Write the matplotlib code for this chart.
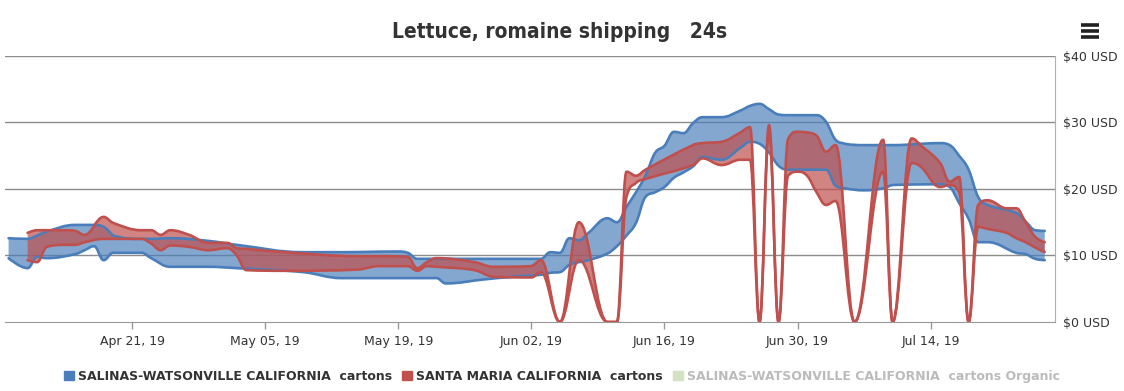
import matplotlib
matplotlib.use('Agg')
import matplotlib.pyplot as plt
import matplotlib.dates as mdates
from matplotlib.path import Path
from matplotlib.patches import PathPatch, Patch
from matplotlib.lines import Line2D
import pandas as pd

title = 'Lettuce, romaine shipping   24s'
series_names = ['SALINAS-WATSONVILLE CALIFORNIA  cartons',
                'SANTA MARIA CALIFORNIA  cartons',
                'SALINAS-WATSONVILLE CALIFORNIA  cartons Organic']
tick_dates = ['2019-04-21', '2019-05-05', '2019-05-19', '2019-06-02',
              '2019-06-16', '2019-06-30', '2019-07-14']
y_ticks = [0, 10, 20, 30, 40]

salinas_dates = ['2019-04-08', '2019-04-10', '2019-04-11', '2019-04-12', '2019-04-15',
                 '2019-04-16', '2019-04-17', '2019-04-18', '2019-04-19', '2019-04-22',
                 '2019-04-23', '2019-04-25', '2019-04-29', '2019-05-02', '2019-05-09',
                 '2019-05-13', '2019-05-19', '2019-05-20', '2019-05-21', '2019-05-23',
                 '2019-05-24', '2019-05-28', '2019-05-31', '2019-06-03', '2019-06-04',
                 '2019-06-05', '2019-06-06', '2019-06-07', '2019-06-08', '2019-06-10',
                 '2019-06-11', '2019-06-12', '2019-06-13', '2019-06-14', '2019-06-15',
                 '2019-06-16', '2019-06-17', '2019-06-18', '2019-06-19', '2019-06-20',
                 '2019-06-22', '2019-06-24', '2019-06-25', '2019-06-26', '2019-06-27',
                 '2019-06-28', '2019-06-29', '2019-07-02', '2019-07-03', '2019-07-04',
                 '2019-07-05', '2019-07-07', '2019-07-09', '2019-07-10', '2019-07-15',
                 '2019-07-16', '2019-07-17', '2019-07-18', '2019-07-19', '2019-07-20',
                 '2019-07-23', '2019-07-24', '2019-07-25', '2019-07-26']
salinas_low = [9.6, 8.1, 9.8, 9.6, 10.2, 10.8, 11.4, 9.3, 10.4, 10.4,
               9.6, 8.3, 8.3, 8.1, 7.5, 6.6, 6.6, 6.6, 6.6, 6.6,
               5.8, 6.4, 6.8, 7.1, 7.4, 7.5, 8.6, 9.0, 9.3, 10.3,
               11.4, 13.0, 14.9, 18.8, 19.5, 20.3, 21.7, 22.5, 23.4, 24.8,
               24.4, 26.2, 27.1, 26.8, 25.5, 23.5, 22.9, 22.9, 22.9, 20.5,
               20.1, 19.8, 20.1, 20.6, 20.7, 20.3, 17.9, 15.5, 12.0, 12.0,
               10.4, 10.2, 9.5, 9.3]
salinas_high = [12.6, 12.5, 13.0, 13.6, 14.6, 14.6, 14.6, 14.3, 13.0, 12.5,
                12.5, 12.6, 12.2, 11.6, 10.5, 10.5, 10.6, 10.4, 9.5, 9.5,
                9.5, 9.5, 9.5, 9.5, 10.5, 10.4, 12.6, 12.3, 13.4, 15.6,
                15.0, 17.3, 19.5, 22.0, 25.4, 26.5, 28.6, 28.4, 29.9, 30.8,
                30.8, 31.8, 32.5, 32.8, 32.0, 31.2, 31.1, 31.1, 30.1, 27.4,
                26.8, 26.6, 26.6, 26.6, 26.9, 26.6, 25.0, 22.9, 18.8, 17.6,
                16.4, 15.1, 13.8, 13.7]

santa_maria_dates = ['2019-04-10', '2019-04-11', '2019-04-12', '2019-04-14', '2019-04-15',
                     '2019-04-16', '2019-04-18', '2019-04-19', '2019-04-22', '2019-04-23',
                     '2019-04-24', '2019-04-25', '2019-04-27', '2019-04-29', '2019-05-01',
                     '2019-05-02', '2019-05-03', '2019-05-07', '2019-05-15', '2019-05-17',
                     '2019-05-20', '2019-05-21', '2019-05-22', '2019-05-23', '2019-05-27',
                     '2019-05-29', '2019-06-02', '2019-06-03', '2019-06-05', '2019-06-07',
                     '2019-06-10', '2019-06-11', '2019-06-12', '2019-06-13', '2019-06-14',
                     '2019-06-19', '2019-06-20', '2019-06-22', '2019-06-24', '2019-06-25',
                     '2019-06-26', '2019-06-27', '2019-06-28', '2019-06-29', '2019-06-30',
                     '2019-07-01', '2019-07-02', '2019-07-03', '2019-07-04', '2019-07-06',
                     '2019-07-09', '2019-07-10', '2019-07-12', '2019-07-13', '2019-07-15',
                     '2019-07-16', '2019-07-17', '2019-07-18', '2019-07-19', '2019-07-20',
                     '2019-07-22', '2019-07-23', '2019-07-24', '2019-07-25', '2019-07-26']
santa_maria_low = [9.3, 9.0, 11.3, 11.6, 11.6, 12.0, 12.5, 12.5, 12.5, 11.8,
                   10.8, 11.5, 11.3, 10.8, 11.1, 10.0, 7.8, 7.7, 7.9, 8.4,
                   8.4, 7.7, 8.4, 8.3, 7.8, 6.8, 6.7, 7.5, 0, 9.3,
                   0, 0, 18.8, 20.9, 21.5, 23.6, 24.6, 23.6, 24.4, 24.4,
                   0, 28.5, 0, 22.0, 22.6, 22.0, 19.5, 17.6, 18.2, 0,
                   22.6, 0, 23.9, 23.3, 20.3, 20.6, 19.5, 0, 14.3, 14.0,
                   13.4, 12.6, 12.0, 11.2, 10.5]
santa_maria_high = [13.4, 13.8, 13.8, 13.8, 13.7, 13.1, 15.8, 14.9, 13.8, 13.8,
                    13.1, 13.8, 13.1, 11.9, 11.9, 11.1, 11.0, 10.5, 9.9, 9.9,
                    9.8, 8.1, 9.0, 9.6, 9.0, 8.3, 8.4, 9.3, 0, 15.0,
                    0, 0, 22.6, 22.0, 22.9, 26.6, 26.9, 27.1, 28.5, 29.3,
                    0, 29.6, 0, 27.5, 28.6, 28.5, 28.0, 25.6, 26.6, 0,
                    27.4, 0, 27.6, 26.5, 23.9, 21.1, 21.8, 0, 17.6, 18.3,
                    17.1, 17.1, 15.0, 12.8, 12.0]


def spline_verts(xs, ys, smoothing=1.5):
    # highcharts-like spline control points
    n = len(xs)
    denom = smoothing + 1
    lc = [(xs[i], ys[i]) for i in range(n)]
    rc = list(lc)
    for i in range(1, n - 1):
        px, py = xs[i], ys[i]
        lx, ly = xs[i - 1], ys[i - 1]
        nx, ny = xs[i + 1], ys[i + 1]
        lcx = (smoothing * px + lx) / denom
        lcy = (smoothing * py + ly) / denom
        rcx = (smoothing * px + nx) / denom
        rcy = (smoothing * py + ny) / denom
        if rcx != lcx:
            corr = ((rcy - lcy) * (rcx - px)) / (rcx - lcx) + py - rcy
            lcy += corr
            rcy += corr
        if lcy > ly and lcy > py:
            lcy = max(ly, py)
            rcy = 2 * py - lcy
        elif lcy < ly and lcy < py:
            lcy = min(ly, py)
            rcy = 2 * py - lcy
        if rcy > ny and rcy > py:
            rcy = max(ny, py)
            lcy = 2 * py - rcy
        elif rcy < ny and rcy < py:
            rcy = min(ny, py)
            lcy = 2 * py - rcy
        lc[i] = (lcx, lcy)
        rc[i] = (rcx, rcy)
    verts = [(xs[0], ys[0])]
    for i in range(1, n):
        verts += [rc[i - 1], lc[i], (xs[i], ys[i])]
    return verts


def draw_range(ax, dates, low, high, color, fill_alpha):
    xs = list(mdates.date2num(pd.to_datetime(dates)))
    top = spline_verts(xs, list(high))
    bottom = spline_verts(xs[::-1], list(low)[::-1])
    curve_codes = [Path.CURVE4] * (len(top) - 1)
    verts = top + bottom + [top[0]]
    codes = [Path.MOVETO] + curve_codes + [Path.LINETO] + curve_codes + [Path.CLOSEPOLY]
    ax.add_patch(PathPatch(Path(verts, codes), facecolor=color, edgecolor='none',
                           alpha=fill_alpha, zorder=2))
    for v in (top, bottom):
        ax.add_patch(PathPatch(Path(v, [Path.MOVETO] + curve_codes), facecolor='none',
                               edgecolor=color, lw=1.9, zorder=3, capstyle='round',
                               joinstyle='round'))


fig = plt.figure(figsize=(11.24, 3.91), dpi=100)
ax = fig.add_axes([5 / 1124, 69 / 391, 1050 / 1124, 266 / 391])

blue = '#4a7ebb'
red = '#c0504d'
draw_range(ax, salinas_dates, salinas_low, salinas_high, blue, 0.68)
draw_range(ax, santa_maria_dates, santa_maria_low, santa_maria_high, red, 0.7)

ax.set_xlim(mdates.date2num(pd.Timestamp('2019-04-07 15:00')),
            mdates.date2num(pd.Timestamp('2019-07-27 02:00')))
ax.set_ylim(0, 40)
ax.xaxis_date()
ax.set_xticks(mdates.date2num(pd.to_datetime(tick_dates)))
ax.xaxis.set_major_formatter(mdates.DateFormatter('%b %d, %y'))
ax.yaxis.tick_right()
ax.set_yticks(y_ticks)
ax.set_yticklabels(['$%d USD' % v for v in y_ticks])
ax.tick_params(axis='y', length=0, pad=6, labelsize=9, labelcolor='#333333')
ax.tick_params(axis='x', length=5, width=1, color='#999999', pad=4,
               labelsize=9, labelcolor='#333333')
for v in y_ticks[1:]:
    ax.axhline(v, color='#8c8c8c', lw=1, zorder=1)
for side in ('left', 'top'):
    ax.spines[side].set_visible(False)
ax.spines['bottom'].set_color('#999999')
ax.spines['right'].set_color('#b0b0b0')

fig.text(0.498, 0.918, title, ha='center', va='center', fontsize=15,
         fontweight='heavy', family='DejaVu Sans', fontstretch='condensed',
         color='#333333')

# menu icon
for yy in (0.905, 0.92, 0.935):
    fig.add_artist(Line2D([1081 / 1124, 1099 / 1124], [yy, yy], color='#222222',
                          lw=2.6, solid_capstyle='butt'))

handles = [Patch(color=blue), Patch(color=red), Patch(color='#d3e2c0')]
leg = fig.legend(handles, series_names, loc='center', bbox_to_anchor=(0.5, 0.038),
                 ncol=3, frameon=False, handlelength=0.8, handleheight=0.8,
                 handletextpad=0.35, columnspacing=0.8,
                 prop={'family': 'DejaVu Sans', 'weight': 'bold', 'size': 9})
for t, c in zip(leg.get_texts(), ['#333333', '#333333', '#bbbbbb']):
    t.set_color(c)

fig.savefig('out.png', dpi=100)
